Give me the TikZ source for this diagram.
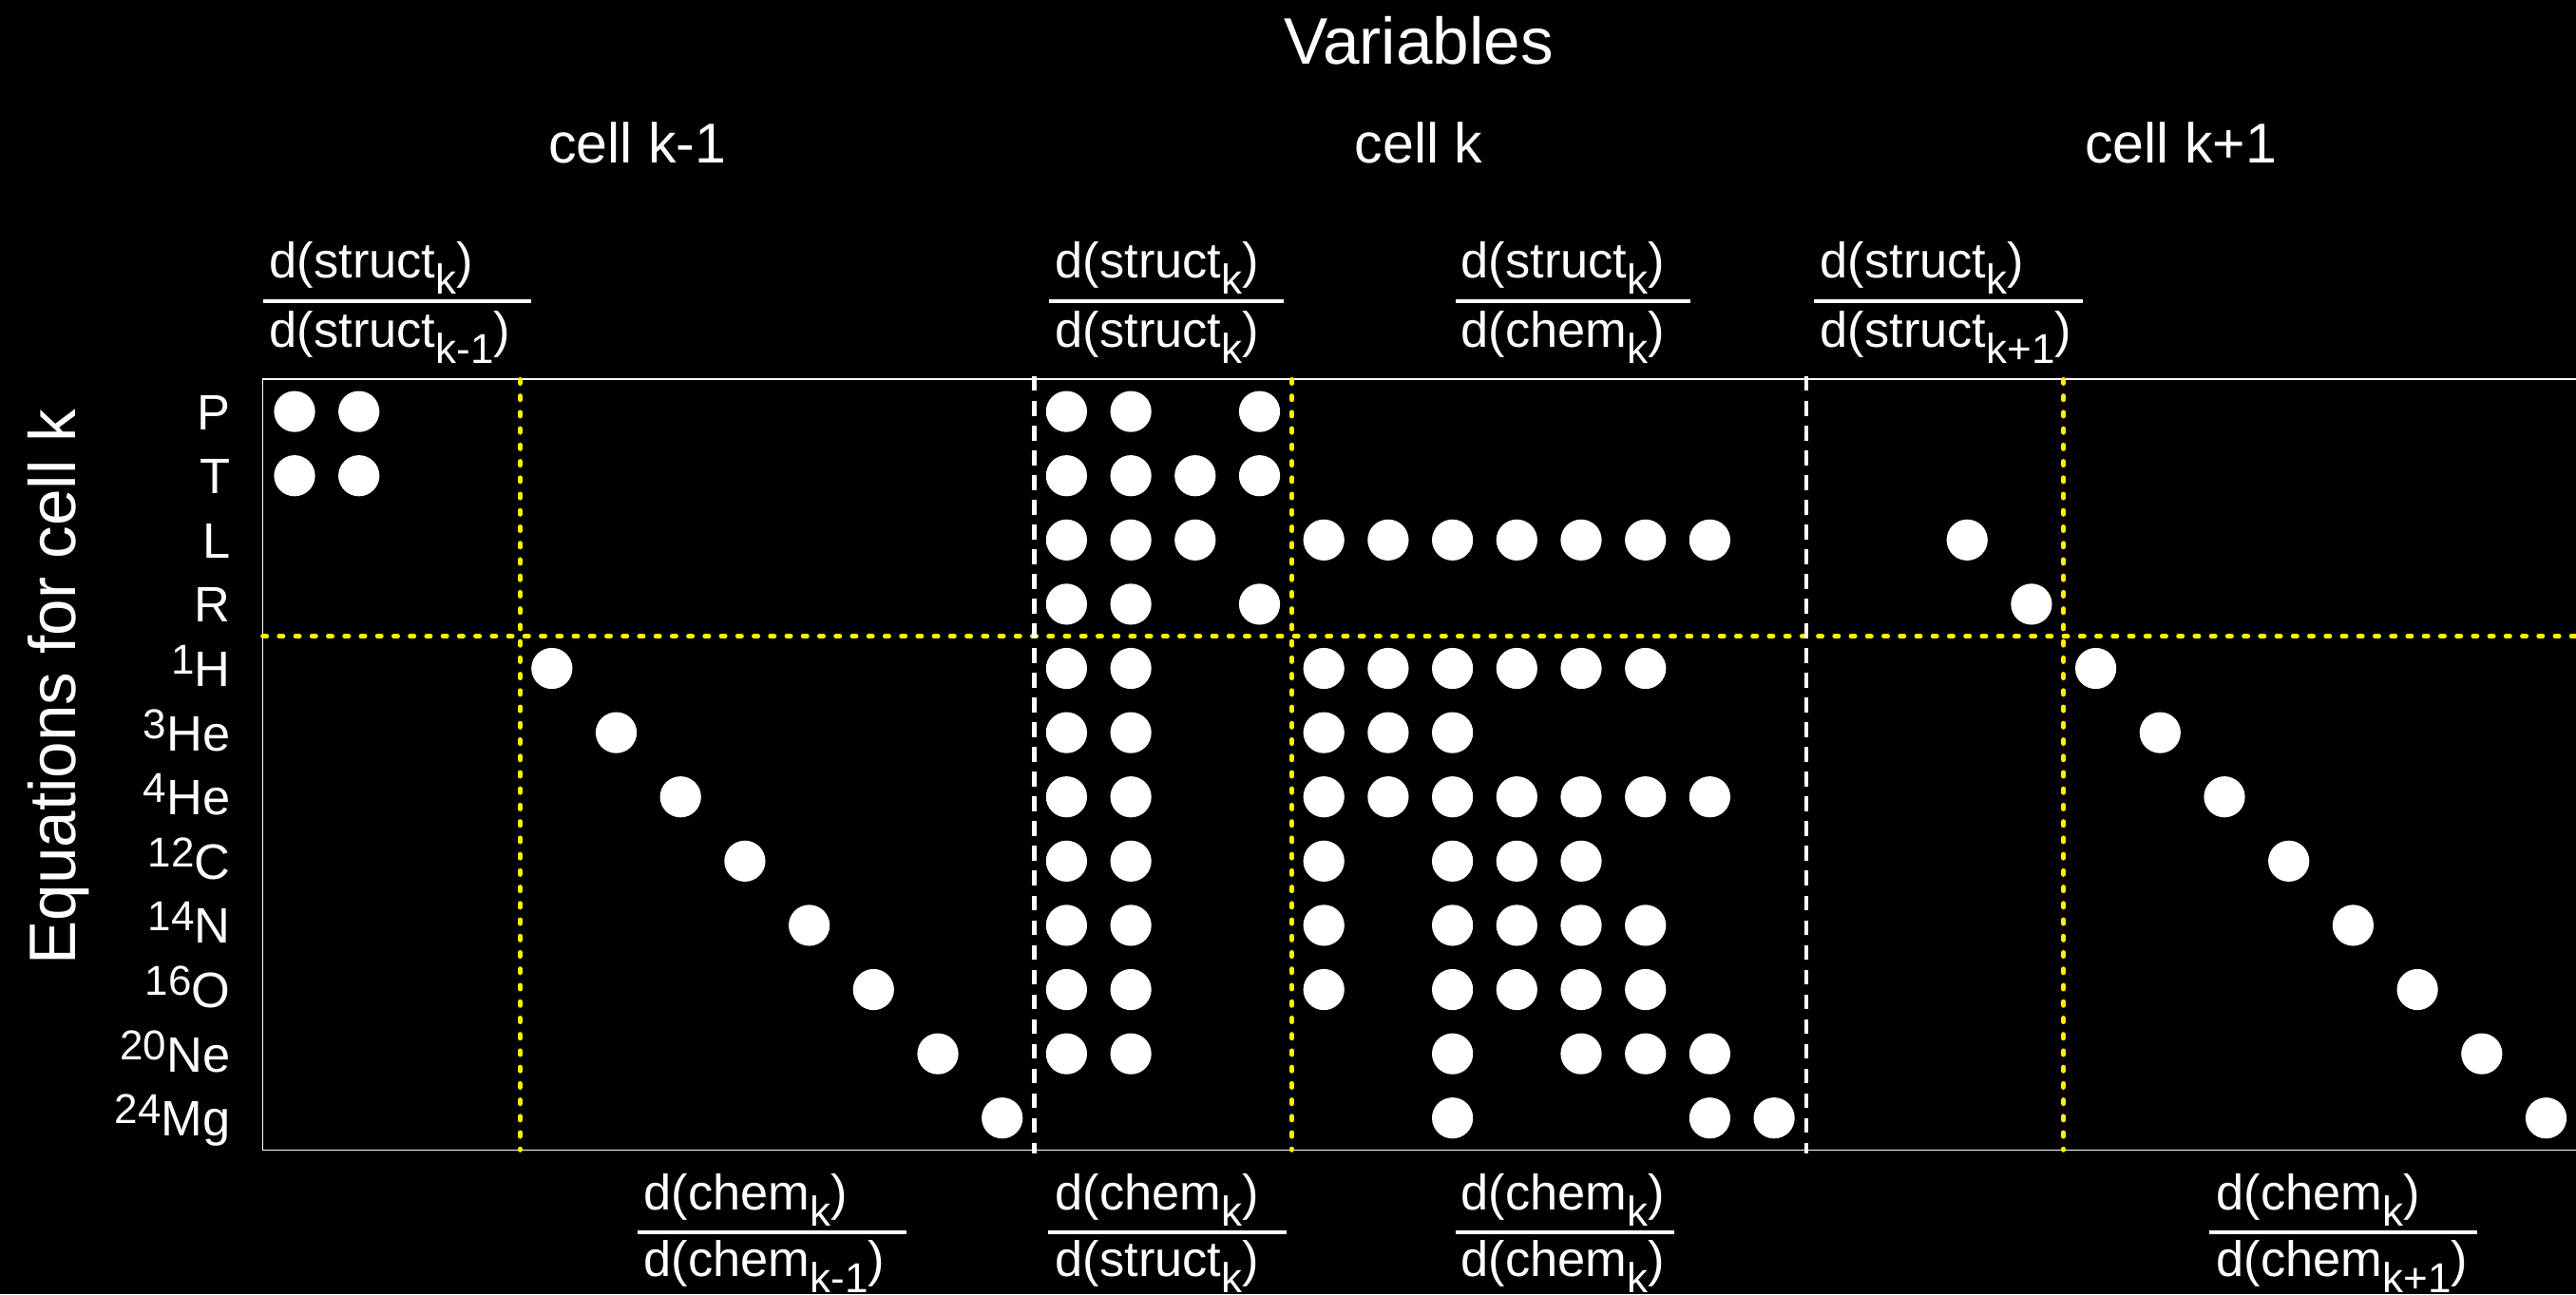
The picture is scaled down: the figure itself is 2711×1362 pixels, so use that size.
\documentclass[tikz,border=0pt]{standalone}
\usepackage{fontspec}
\setmainfont{Liberation Sans}
% lowered / raised indices in the sans text
\newcommand\lsub[1]{\raisebox{-0.17cm}{\fontsize{12.5}{13}\selectfont #1}}
\newcommand\lsup[1]{\raisebox{0.13cm}{\fontsize{12.5}{13}\selectfont #1}}
\begin{document}
\begin{tikzpicture}[x=0.01cm,y=-0.01cm,
  txt/.style={text=white,inner sep=0pt,font=\fontsize{14.9}{16}\selectfont},
  celllab/.style={text=white,inner sep=0pt,font=\fontsize{16.8}{18}\selectfont,anchor=base},
  biglab/.style={text=white,inner sep=0pt,font=\fontsize{19.7}{21}\selectfont,anchor=base},
  dot/.style={circle,fill=white,minimum size=0.432cm,inner sep=0pt},
  fbar/.style={white,line width=1.22pt},
  frame/.style={draw=white,line width=0.5pt},
  celldiv/.style={white,line width=1.15pt,dash pattern=on 4.4pt off 3pt},
  blockdiv/.style={yellow,line width=1.35pt,line cap=round,dash pattern=on 1.2pt off 3.7pt}]

% canvas
\fill[black] (0,0) rectangle (2711,1362);
\clip (0,0) rectangle (2711,1362);

% titles
\node[biglab] (vars) at (1493,67) {Variables};
\node[celllab] (cellA) at (671,171) {cell k-1};
\node[celllab] (cellB) at (1493,171) {cell k};
\node[celllab] (cellC) at (2295,171) {cell k+1};
\node[biglab,rotate=90] (eqs) at (80,723) {Equations for cell k};

% frame of the Jacobian block
\draw[frame] (276.5,399.3) rectangle (2713.6,1210.4);

% struct / chem separators
\draw[blockdiv] (276.5,669.7) -- (2711,669.7);
\foreach \xx in {547.3,1359.4,2171.7}
  \draw[blockdiv] (\xx,399.3) -- (\xx,1210.4);

% cell separators
\foreach \xx in {1088.5,1901.3}
  \draw[celldiv] (\xx,396) -- (\xx,1214);

% row labels
\foreach \r/\lab in {0/P,1/T,2/L,3/R,4/\lsup{1}H,5/\lsup{3}He,6/\lsup{4}He,
    7/\lsup{12}C,8/\lsup{14}N,9/\lsup{16}O,10/\lsup{20}Ne,11/\lsup{24}Mg}
  \node[txt,anchor=base east] (lab\r) at (243,{452.1+67.6*\r}) {\lab};

% non-zero entries
\foreach \r/\cols in {0/{0,1,12,13,15},
    1/{0,1,12,13,14,15},
    2/{12,13,14,16,17,18,19,20,21,22,26},
    3/{12,13,15,27},
    4/{4,12,13,16,17,18,19,20,21,28},
    5/{5,12,13,16,17,18,29},
    6/{6,12,13,16,17,18,19,20,21,22,30},
    7/{7,12,13,16,18,19,20,31},
    8/{8,12,13,16,18,19,20,21,32},
    9/{9,12,13,16,18,19,20,21,33},
    10/{10,12,13,18,20,21,22,34},
    11/{11,18,22,23,35}}
  \foreach \c in \cols
    \node[dot] (d\r-\c) at ({310+67.7*\c},{433.1+67.6*\r}) {};

% derivative labels above the block
\draw[fbar] (277,317) -- (559,317);
\node[txt,anchor=base west] (tn1) at (283,292.5) {d(struct\lsub{k})};
\node[txt,anchor=base west] (td1) at (283,365) {d(struct\lsub{k-1})};

\draw[fbar] (1104,317) -- (1351,317);
\node[txt,anchor=base west] (tn2) at (1110,292.5) {d(struct\lsub{k})};
\node[txt,anchor=base west] (td2) at (1110,365) {d(struct\lsub{k})};

\draw[fbar] (1532,317) -- (1779,317);
\node[txt,anchor=base west] (tn3) at (1537,292.5) {d(struct\lsub{k})};
\node[txt,anchor=base west] (td3) at (1537,365) {d(chem\lsub{k})};

\draw[fbar] (1909,317) -- (2192,317);
\node[txt,anchor=base west] (tn4) at (1915,292.5) {d(struct\lsub{k})};
\node[txt,anchor=base west] (td4) at (1915,365) {d(struct\lsub{k+1})};

% derivative labels below the block
\draw[fbar] (671,1297) -- (954,1297);
\node[txt,anchor=base west] (bn1) at (677,1273) {d(chem\lsub{k})};
\node[txt,anchor=base west] (bd1) at (677,1343) {d(chem\lsub{k-1})};

\draw[fbar] (1103,1297) -- (1354,1297);
\node[txt,anchor=base west] (bn2) at (1110,1273) {d(chem\lsub{k})};
\node[txt,anchor=base west] (bd2) at (1110,1343) {d(struct\lsub{k})};

\draw[fbar] (1532,1297) -- (1762,1297);
\node[txt,anchor=base west] (bn3) at (1537,1273) {d(chem\lsub{k})};
\node[txt,anchor=base west] (bd3) at (1537,1343) {d(chem\lsub{k})};

\draw[fbar] (2325,1297) -- (2607,1297);
\node[txt,anchor=base west] (bn4) at (2332,1273) {d(chem\lsub{k})};
\node[txt,anchor=base west] (bd4) at (2332,1343) {d(chem\lsub{k+1})};
\end{tikzpicture}
\end{document}
